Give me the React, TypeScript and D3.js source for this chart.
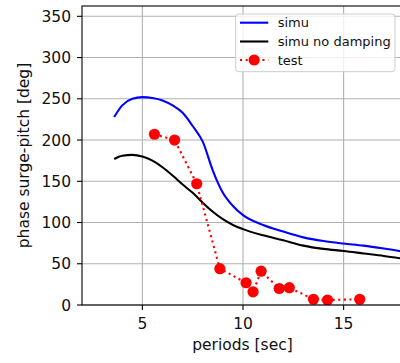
import React from "react";
import * as d3 from "d3";

// Simulated surge-pitch phase, sampled along the wave period axis
const simuPeriods = [3.6, 4.0, 4.5, 5.0, 5.5, 6.0, 6.5, 7.0, 7.5, 8.0, 8.5, 9.0, 9.5, 10.0, 11.0, 12.0, 13.0, 14.0, 15.0, 16.0, 17.0, 18.0];
const simu = [228, 242, 250, 252, 251, 248, 242, 233, 217, 198, 163, 136, 120, 109, 97, 89, 82, 77.5, 74.5, 72, 68.5, 64.5];
const simuNoDamping = [177, 181, 182, 180, 175, 167, 157, 146, 136, 124, 113, 104, 97, 92, 84.5, 78.5, 72, 68, 65.5, 62.5, 59.5, 56];

// Measured test points
const testPeriods = [5.6, 6.6, 7.7, 8.85, 10.15, 10.5, 10.9, 11.8, 12.3, 13.5, 14.2, 15.8];
const test = [207, 200, 147, 44, 27, 16, 41, 20, 21, 7, 6, 7];

const xTicks = [5, 10, 15];
const yTicks = [0, 50, 100, 150, 200, 250, 300, 350];

const legendItems = ["simu", "simu no damping", "test"];

const W = 400;
const H = 363;
const left = 82;
const right = 404;
const top = 6;
const bottom = 305;
const font = "DejaVu Sans, sans-serif";
const textColor = "#111";

export default function App() {
  const x = d3.scaleLinear().domain([2, 18]).range([left, right]);
  const y = d3.scaleLinear().domain([0, 362.5]).range([bottom, top]);

  const smooth = d3
    .line<[number, number]>()
    .x((d) => x(d[0]))
    .y((d) => y(d[1]))
    .curve(d3.curveMonotoneX);

  const straight = d3
    .line<[number, number]>()
    .x((d) => x(d[0]))
    .y((d) => y(d[1]));

  const simuPts = simuPeriods.map((p, i) => [p, simu[i]] as [number, number]);
  const ndPts = simuPeriods.map((p, i) => [p, simuNoDamping[i]] as [number, number]);
  const testPts = testPeriods.map((p, i) => [p, test[i]] as [number, number]);

  const gridColor = "#b0b0b0";

  // legend geometry
  const lgX = 235.7;
  const lgY = 14;
  const lgW = 159.3;
  const lgH = 57.7;
  const rowY = [22.7, 41.5, 60];
  const hx0 = 240;
  const hx1 = 268.3;

  return (
    <svg
      width={W}
      height={H}
      style={{ position: "absolute", left: 0, top: 0, background: "#fff" }}
    >
      <defs>
        <clipPath id="plot-area">
          <rect x={left} y={top} width={right - left} height={bottom - top} />
        </clipPath>
      </defs>

      {/* grid */}
      {xTicks.map((t) => (
        <line key={"gx" + t} x1={x(t)} x2={x(t)} y1={top} y2={bottom} stroke={gridColor} strokeWidth={1.1} />
      ))}
      {yTicks.map((t) => (
        <line key={"gy" + t} x1={left} x2={right} y1={y(t)} y2={y(t)} stroke={gridColor} strokeWidth={1.1} />
      ))}

      {/* series */}
      <g clipPath="url(#plot-area)">
        <path d={smooth(simuPts) ?? ""} fill="none" stroke="#0000ff" strokeWidth={2.1} strokeLinejoin="round" />
        <path d={smooth(ndPts) ?? ""} fill="none" stroke="#000000" strokeWidth={2.1} strokeLinejoin="round" />
        <path d={straight(testPts) ?? ""} fill="none" stroke="#ff0000" strokeWidth={2.1} strokeDasharray="2.1,3.5" />
        {testPts.map((d, i) => (
          <circle key={i} cx={x(d[0])} cy={y(d[1])} r={5.6} fill="#ff0000" />
        ))}
      </g>

      {/* spines */}
      <rect x={left} y={top} width={right - left} height={bottom - top} fill="none" stroke="#000" strokeWidth={1.1} />

      {/* x axis */}
      {xTicks.map((t) => (
        <g key={"xt" + t}>
          <line x1={x(t)} x2={x(t)} y1={bottom} y2={bottom + 5} stroke="#000" strokeWidth={1.1} />
          <text x={x(t)} y={329} textAnchor="middle" fontFamily={font} fontSize={15.5} fill={textColor}>
            {t}
          </text>
        </g>
      ))}
      <text x={242.5} y={350} textAnchor="middle" fontFamily={font} fontSize={15.5} fill={textColor}>
        periods [sec]
      </text>

      {/* y axis */}
      {yTicks.map((t) => (
        <g key={"yt" + t}>
          <line x1={left - 5} x2={left} y1={y(t)} y2={y(t)} stroke="#000" strokeWidth={1.1} />
          <text x={71} y={y(t)} dy="0.36em" textAnchor="end" fontFamily={font} fontSize={15.5} fill={textColor}>
            {t}
          </text>
        </g>
      ))}
      <text
        transform={`translate(29,${(top + bottom) / 2}) rotate(-90)`}
        textAnchor="middle"
        fontFamily={font}
        fontSize={15.5}
        fill={textColor}
      >
        phase surge-pitch [deg]
      </text>

      {/* legend */}
      <rect x={lgX} y={lgY} width={lgW} height={lgH} rx={3} fill="#fff" fillOpacity={0.8} stroke="#cccccc" strokeWidth={1} />
      <line x1={hx0} x2={hx1} y1={rowY[0]} y2={rowY[0]} stroke="#0000ff" strokeWidth={2.1} />
      <line x1={hx0} x2={hx1} y1={rowY[1]} y2={rowY[1]} stroke="#000" strokeWidth={2.1} />
      <line x1={hx0} x2={hx1} y1={rowY[2]} y2={rowY[2]} stroke="#ff0000" strokeWidth={2.1} strokeDasharray="2.1,3.5" />
      <circle cx={(hx0 + hx1) / 2} cy={rowY[2]} r={5.6} fill="#ff0000" />
      {legendItems.map((label, i) => (
        <text key={label} x={277.7} y={rowY[i]} dy="0.36em" fontFamily={font} fontSize={13} fill={textColor}>
          {label}
        </text>
      ))}
    </svg>
  );
}
